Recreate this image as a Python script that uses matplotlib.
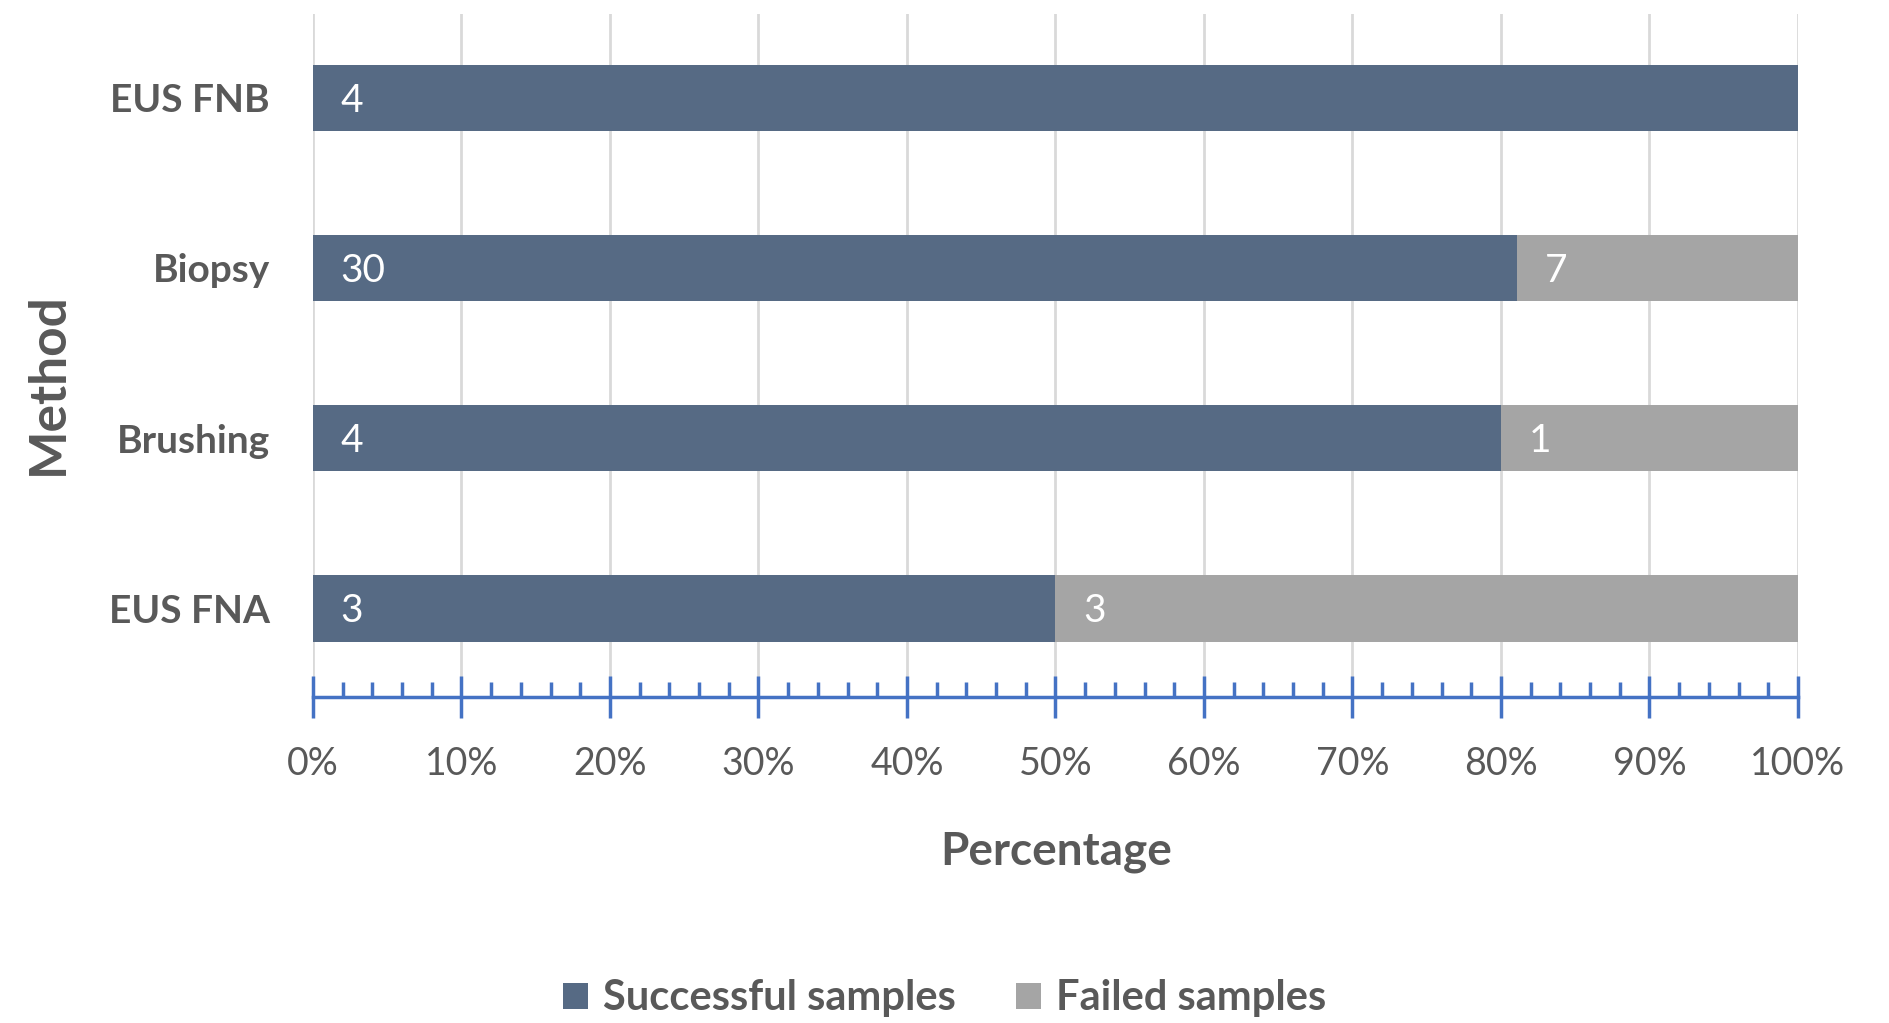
import matplotlib.pyplot as plt
from matplotlib.ticker import MultipleLocator, FuncFormatter

plt.rcParams['font.family'] = ['Lato', 'DejaVu Sans']

methods = ['EUS FNA', 'Brushing', 'Biopsy', 'EUS FNB']
successful = [3, 4, 30, 4]
failed = [3, 1, 7, 0]

blue = '#566A84'
grey = '#A5A5A5'
text_grey = '#595959'
axis_blue = '#4472C4'

totals = [s + f for s, f in zip(successful, failed)]
succ_pct = [s / t * 100 for s, t in zip(successful, totals)]
fail_pct = [f / t * 100 for f, t in zip(failed, totals)]

fig = plt.figure(figsize=(18.9, 10.23), dpi=100)
ax = fig.add_axes([0.1656, 0.3187, 0.7857, 0.6673])

y = list(range(len(methods)))
b1 = ax.barh(y, succ_pct, height=0.39, color=blue, label='Successful samples', zorder=3)
b2 = ax.barh(y, fail_pct, left=succ_pct, height=0.39, color=grey, label='Failed samples', zorder=3)

# value labels at the left edge of each segment
for i in y:
    ax.annotate(str(successful[i]), (0, i), xytext=(20, -2), textcoords='offset points',
                ha='left', va='center', color='white', fontsize=28, zorder=4)
    if failed[i] > 0:
        ax.annotate(str(failed[i]), (succ_pct[i], i), xytext=(20, -2), textcoords='offset points',
                    ha='left', va='center', color='white', fontsize=28, zorder=4)

ax.set_xlim(0, 100)
ax.set_ylim(-0.52, 3.49)
ax.set_yticks(y)
ax.set_yticklabels(methods, fontsize=28, fontweight='bold', color=text_grey)
ax.tick_params(axis='y', length=0, pad=31)

ax.xaxis.set_major_locator(MultipleLocator(10))
ax.xaxis.set_minor_locator(MultipleLocator(2))
ax.xaxis.set_major_formatter(FuncFormatter(lambda v, p: f'{v:.0f}%'))
ax.tick_params(axis='x', which='major', direction='inout', length=30, width=2.5,
               color=axis_blue, labelsize=27, labelcolor=text_grey, pad=20)
ax.tick_params(axis='x', which='minor', direction='in', length=11, width=2.5, color=axis_blue)

ax.xaxis.grid(True, which='major', color='#D9D9D9', lw=2, zorder=0)
ax.set_axisbelow(True)
for s in ['left', 'top', 'right']:
    ax.spines[s].set_visible(False)
ax.spines['bottom'].set_color(axis_blue)
ax.spines['bottom'].set_linewidth(2.5)

fig.text(0.5587, 0.1545, 'Percentage', ha='center', va='baseline', fontsize=33,
         fontweight='bold', color=text_grey)
fig.text(0.0254, 0.6246, 'Method', ha='center', va='center', rotation=90, fontsize=37,
         fontweight='bold', color=text_grey)

leg = fig.legend(handles=[b1, b2], loc='center', bbox_to_anchor=(0.4997, 0.024), ncol=2,
                 frameon=False, fontsize=30, handlelength=0.6, handleheight=0.6,
                 handletextpad=0.35, columnspacing=1.45)
for t in leg.get_texts():
    t.set_color(text_grey)
    t.set_fontweight('bold')

fig.savefig('out.png', dpi=100)
